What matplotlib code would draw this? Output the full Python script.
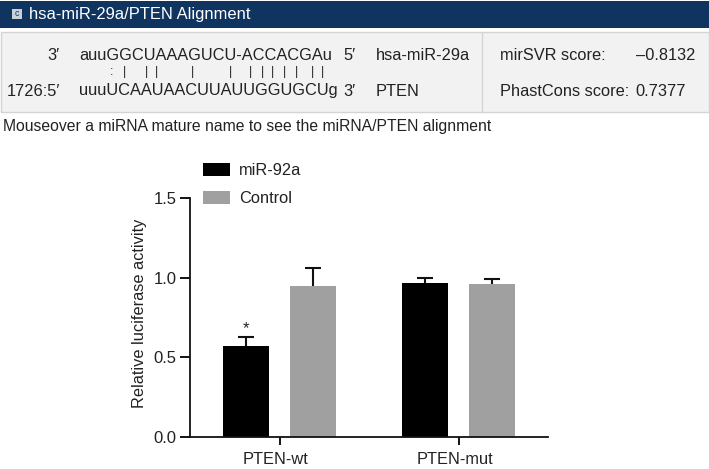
import matplotlib
matplotlib.use('Agg')
import matplotlib.pyplot as plt
from matplotlib.patches import Rectangle
from matplotlib.transforms import ScaledTranslation

W, H = 709, 469

groups = ['PTEN-wt', 'PTEN-mut']
mir92a = [0.57, 0.97]
mir92a_err = [0.06, 0.03]
control = [0.95, 0.96]
control_err = [0.11, 0.03]
yticks = [0.0, 0.5, 1.0, 1.5]

title = 'hsa-miR-29a/PTEN Alignment'
mirna_seq = 'auuGGCUAAAGUCU-ACCACGAu'
target_seq = 'uuuUCAAUAACUUAUUGGUGCUg'
pair_marks = [':', '|', '|', '|', '|', '|', '|', '|', '|', '|', '|', '|', '|']
pair_px = [112, 124, 147, 157, 193, 230, 250, 262, 273, 284, 296, 312, 322]
caption = 'Mouseover a miRNA mature name to see the miRNA/PTEN alignment'

plt.rcParams['font.family'] = ['Liberation Sans', 'DejaVu Sans']
TXT = '#222222'
FS = 11.75

fig = plt.figure(figsize=(W / 100, H / 100), dpi=100)

# page furniture, in pixel coordinates
bg = fig.add_axes([0, 0, 1, 1])
bg.set_xlim(0, W)
bg.set_ylim(H, 0)
bg.axis('off')
bg.add_patch(Rectangle((0, 1), W, 27, fc='#0f3460', ec='none'))
bg.add_patch(Rectangle((12, 9), 10, 10, fc='#c9d0da', ec='none'))
bg.text(17, 14, 'c', fontsize=6.5, color='#0f3460', ha='center', va='center')
bg.text(29, 14.5, title, fontsize=11.9, color='white', va='center')
bg.add_patch(Rectangle((0.5, 32), W - 1, 80, fc='#f2f2f2', ec='#d4d4d4', lw=1))
bg.plot([482, 482], [32, 112], color='#d4d4d4', lw=1)

bg.text(60, 55, '3′', fontsize=FS, color=TXT, ha='right', va='center')
bg.text(79, 55, mirna_seq, fontsize=FS, color=TXT, va='center')
bg.text(343, 55, '5′', fontsize=FS, color=TXT, va='center')
bg.text(376, 55, 'hsa-miR-29a', fontsize=FS, color=TXT, va='center')
for m, px in zip(pair_marks, pair_px):
    bg.text(px, 72, m, fontsize=9, color=TXT, ha='center', va='center')
bg.text(60, 91, '1726:5′', fontsize=FS, color=TXT, ha='right', va='center')
bg.text(79, 91, target_seq, fontsize=FS, color=TXT, va='center')
bg.text(343, 91, '3′', fontsize=FS, color=TXT, va='center')
bg.text(376, 91, 'PTEN', fontsize=FS, color=TXT, va='center')
bg.text(500, 55, 'mirSVR score:', fontsize=FS, color=TXT, va='center')
bg.text(695, 55, '–0.8132', fontsize=FS, color=TXT, ha='right', va='center')
bg.text(500, 91, 'PhastCons score:', fontsize=FS, color=TXT, va='center')
bg.text(635, 91, '0.7377', fontsize=FS, color=TXT, va='center')
bg.text(3, 127, caption, fontsize=11.3, color=TXT, va='center')

# bar chart
ax = fig.add_axes([190 / W, 1 - 436.7 / H, 358 / W, 238.4 / H])
ax.patch.set_alpha(0)
xs = range(len(groups))
off = 0.1875
bw = 0.257
err_kw = dict(ecolor='#111111', elinewidth=1.5, capsize=5.5, capthick=1.5, zorder=1)
ax.bar([x - off for x in xs], mir92a, bw, color='black', zorder=2,
       yerr=mir92a_err, error_kw=err_kw, label='miR-92a')
ax.bar([x + off for x in xs], control, bw, color='#a0a0a0', zorder=2,
       yerr=control_err, error_kw=err_kw, label='Control')
ax.text(0 - off, mir92a[0] + mir92a_err[0] + 0.005, '*', fontsize=12,
        color=TXT, ha='center', va='bottom')

ax.set_xlim(-0.5, 1.5)
ax.set_ylim(0, 1.5)
ax.set_xticks(list(xs))
ax.set_xticklabels(groups)
ax.set_yticks(yticks)
ax.set_yticklabels(['%.1f' % t for t in yticks])
ax.tick_params(axis='y', labelsize=12, labelcolor=TXT, length=7, width=1.3, pad=2.5)
ax.tick_params(axis='x', labelsize=FS, labelcolor=TXT, length=6, width=1.3, pad=5)
ax.set_ylabel('Relative luciferase activity', fontsize=FS, color=TXT, labelpad=5, y=0.519)
# x labels sit a little left of their ticks in the original
shift = ScaledTranslation(-4 / 100, 0, fig.dpi_scale_trans)
for lab in ax.get_xticklabels():
    lab.set_transform(lab.get_transform() + shift)
for s in ['top', 'right']:
    ax.spines[s].set_visible(False)
for s in ['left', 'bottom']:
    ax.spines[s].set_linewidth(1.3)
    ax.spines[s].set_color('#111111')

ax.legend(loc='upper left', bbox_to_anchor=(203 / W, 1 - 163 / H),
          bbox_transform=fig.transFigure, frameon=False, fontsize=FS,
          handlelength=1.65, handleheight=0.86, labelspacing=0.8,
          handletextpad=0.55, borderpad=0, borderaxespad=0, labelcolor=TXT)

fig.savefig('out.png', dpi=100)
